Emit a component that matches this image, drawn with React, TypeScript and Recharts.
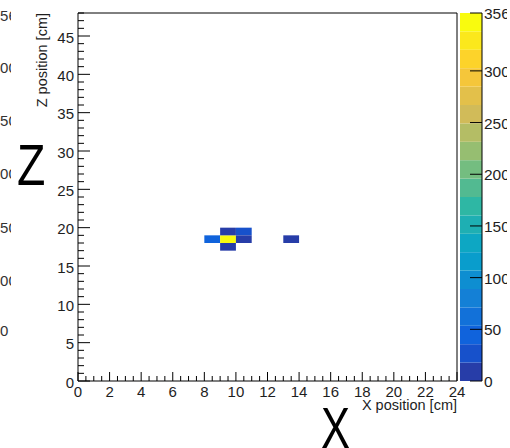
import React from "react";
import { ComposedChart, XAxis, YAxis, ReferenceArea, Scatter } from "recharts";

// ---- data ----
const xRange = [0, 24];
const zRange = [0, 48];
const xMajorTicks = [0, 2, 4, 6, 8, 10, 12, 14, 16, 18, 20, 22, 24];
const zMajorTicks = [0, 5, 10, 15, 20, 25, 30, 35, 40, 45];
const paletteTicks = [0, 50, 100, 150, 200, 250, 300, 356];
const paletteMax = 356;
const paletteLevels = 20;
// heatmap cells: lower-left bin edge (cm) and content
const cellX = [8, 9, 9, 9, 10, 10, 13];
const cellZ = [18, 18, 17, 19, 19, 18, 18];
const cellValue = [40, 356, 8, 8, 28, 8, 8];
// clipped labels of the neighbouring panel on the left
const leftPanelLabels = ["356", "300", "250", "200", "150", "100", "50"];
const leftPanelLabelY = [15, 67, 120, 173, 227, 280, 330];

// ---- helpers ----
const birdStops = [0, 0.125, 0.25, 0.375, 0.5, 0.625, 0.75, 0.875, 1];
const birdR = [0.2082, 0.0592, 0.078, 0.0232, 0.1802, 0.5301, 0.8186, 0.9956, 0.9764];
const birdG = [0.1664, 0.3599, 0.5041, 0.6419, 0.7178, 0.7492, 0.7328, 0.7862, 0.9832];
const birdB = [0.5293, 0.8684, 0.8385, 0.7914, 0.6425, 0.4662, 0.3499, 0.1968, 0.0539];

function bird(t: number): string {
  let k = 0;
  while (k < birdStops.length - 2 && t > birdStops[k + 1]) k++;
  const f = (t - birdStops[k]) / (birdStops[k + 1] - birdStops[k]);
  const c = (a: number[]) => Math.round(255 * (a[k] + (a[k + 1] - a[k]) * f));
  return `rgb(${c(birdR)},${c(birdG)},${c(birdB)})`;
}
function bandColor(i: number): string {
  const idx = Math.floor((i + 0.99) * (255 / paletteLevels));
  return bird(Math.min(idx, 254) / 254);
}
function valueColor(v: number): string {
  const i = Math.min(paletteLevels - 1, Math.floor((v / paletteMax) * paletteLevels));
  return bandColor(i);
}

const xTickValues: number[] = [];
for (let v = xRange[0]; v <= xRange[1] + 1e-9; v += 0.5) xTickValues.push(v);
const zTickValues: number[] = [];
for (let v = zRange[0]; v <= zRange[1]; v += 1) zTickValues.push(v);

const bands = Array.from({ length: paletteLevels }, (_, i) => ({
  lo: (i * paletteMax) / paletteLevels,
  hi: ((i + 1) * paletteMax) / paletteLevels,
  color: bandColor(i),
}));

const cells = cellX.map((x, i) => ({ x, z: cellZ[i], v: cellValue[i], cx: x + 0.5, cz: cellZ[i] + 0.5 }));

const FONT = "'Liberation Sans', Arial, Helvetica, sans-serif";
const TXT = "#1e1e1e";

const XTick = (props: any) => {
  const { x, y, payload } = props;
  const v = payload.value;
  const major = xMajorTicks.includes(v);
  return (
    <g>
      <line x1={x} x2={x} y1={y} y2={y - (major ? 9 : 5)} stroke="#000" strokeWidth={1} />
      {major && (
        <text x={x} y={y + 15.5} textAnchor="middle" fontSize={15} fontFamily={FONT} fill={TXT}>
          {v}
        </text>
      )}
    </g>
  );
};

const ZTick = (props: any) => {
  const { x, y, payload } = props;
  const v = payload.value;
  const major = zMajorTicks.includes(v);
  return (
    <g>
      <line x1={x} x2={x + (major ? 12 : 6)} y1={y} y2={y} stroke="#000" strokeWidth={1} />
      {major && (
        <text x={x - 4} y={y + 6.5} textAnchor="end" fontSize={15} fontFamily={FONT} fill={TXT}>
          {v}
        </text>
      )}
    </g>
  );
};

const PTick = (props: any) => {
  const { x, y, payload } = props;
  return (
    <g>
      <line x1={x} x2={x - 12} y1={y} y2={y} stroke="#000" strokeWidth={1} />
      <text x={x + 2} y={y + 6} textAnchor="start" fontSize={15.5} fontFamily={FONT} fill={TXT}>
        {payload.value}
      </text>
    </g>
  );
};

export default function App() {
  return (
    <div style={{ position: "absolute", left: 0, top: 0, width: 510, height: 448, background: "#fff", overflow: "hidden" }}>
      <div style={{ position: "absolute", left: 0, top: 0 }}>
        <ComposedChart width={510} height={448} data={cells} margin={{ top: 13, right: 53, left: 38, bottom: 37 }}>
          <XAxis
            type="number"
            dataKey="cx"
            domain={xRange}
            allowDataOverflow
            ticks={xTickValues}
            interval={0}
            tick={<XTick />}
            tickLine={false}
            axisLine={false}
            tickSize={0}
            tickMargin={0}
            height={30}
          />
          <YAxis
            type="number"
            dataKey="cz"
            domain={zRange}
            allowDataOverflow
            ticks={zTickValues}
            interval={0}
            tick={<ZTick />}
            tickLine={false}
            axisLine={false}
            tickSize={0}
            tickMargin={0}
            width={40}
          />
          {cells.map((c, i) => (
            <ReferenceArea
              key={i}
              x1={c.x}
              x2={c.x + 1}
              y1={c.z}
              y2={c.z + 1}
              fill={valueColor(c.v)}
              fillOpacity={1}
              stroke="none"
            />
          ))}
          <ReferenceArea x1={xRange[0]} x2={xRange[1]} y1={zRange[0]} y2={zRange[1]} fill="none" stroke="#000" strokeWidth={1} />
          <Scatter dataKey="cz" shape={() => <g />} isAnimationActive={false} />
        </ComposedChart>
      </div>
      <div style={{ position: "absolute", left: 0, top: 0, width: 507, height: 448, overflow: "hidden" }}>
        <ComposedChart width={510} height={448} data={bands} margin={{ top: 13, right: 0, left: 460, bottom: 67 }}>
          <XAxis type="number" domain={[0, 1]} hide />
          <YAxis
            yAxisId="p"
            orientation="right"
            type="number"
            domain={[0, paletteMax]}
            allowDataOverflow
            ticks={paletteTicks}
            interval={0}
            tick={<PTick />}
            tickLine={false}
            axisLine={{ stroke: "#000" }}
            tickSize={0}
            tickMargin={0}
            width={28}
          />
          {bands.map((b, i) => (
            <ReferenceArea key={i} yAxisId="p" y1={b.lo} y2={b.hi} fill={b.color} fillOpacity={1} stroke="none" />
          ))}
        </ComposedChart>
      </div>
      <svg width={510} height={448} style={{ position: "absolute", left: 0, top: 0, pointerEvents: "none" }}>
        <defs>
          <clipPath id="leftclip">
            <rect x={0} y={0} width={11} height={448} />
          </clipPath>
        </defs>
        <g clipPath="url(#leftclip)">
          {leftPanelLabels.map((l, i) => (
            <text key={i} x={-8.3} y={leftPanelLabelY[i] + 5.5} fontSize={15} fontFamily={FONT} fill="#333">
              {l}
            </text>
          ))}
        </g>
        <text
          transform="translate(47,13) rotate(-90)"
          textAnchor="end"
          fontSize={14.5}
          fontFamily={FONT}
          fill={TXT}
        >
          Z position [cm]
        </text>
        <text x={457} y={410} textAnchor="end" fontSize={14.5} fontFamily={FONT} fill={TXT}>
          X position [cm]
        </text>
        <text transform="translate(17,185) scale(0.8,1)" fontSize={58} fontFamily={FONT} fill="#000">
          Z
        </text>
        <text transform="translate(321,448) scale(0.75,1)" fontSize={58} fontFamily={FONT} fill="#000">
          X
        </text>
      </svg>
    </div>
  );
}
